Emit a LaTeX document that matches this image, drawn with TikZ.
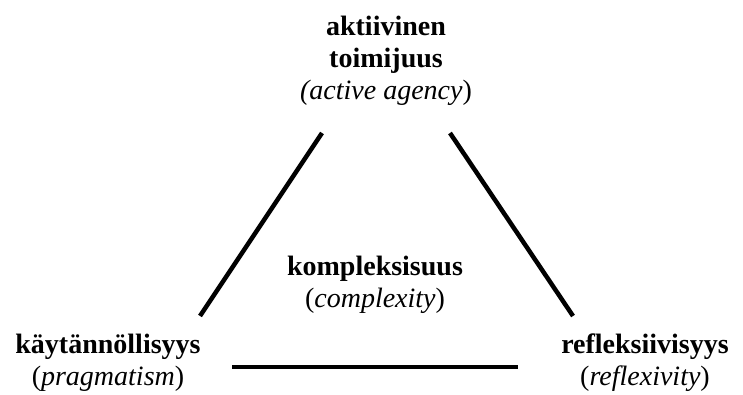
\documentclass[tikz,border=0pt]{standalone}
\usepackage{fontspec}
\setmainfont{Liberation Serif}
\begin{document}
\begin{tikzpicture}[x=1pt,y=-1pt,
  lbl/.style={align=center,inner sep=0pt,font=\fontsize{28}{32}\selectfont},
  edge/.style={line width=4.5pt}]
\useasboundingbox (0,0) rectangle (743,395);
\node[lbl] (top) at (386,61) {\textbf{aktiivinen}\\\textbf{toimijuus}\\\textit{(active agency})};
\node[lbl] (mid) at (375,285) {\textbf{kompleksisuus}\\(\textit{complexity})};
\node[lbl] (left) at (108,363) {\textbf{käytännöllisyys}\\(\textit{pragmatism})};
\node[lbl] (right) at (645,363) {\textbf{refleksiivisyys}\\(\textit{reflexivity})};
\coordinate (lt) at (322,133);
\coordinate (lb) at (200,316);
\coordinate (rt) at (450,133);
\coordinate (rb) at (573,316);
\coordinate (bl) at (232,367);
\coordinate (br) at (518,367);
\draw[edge] (lt) -- (lb);
\draw[edge] (rt) -- (rb);
\draw[edge] (bl) -- (br);
\end{tikzpicture}
\end{document}
